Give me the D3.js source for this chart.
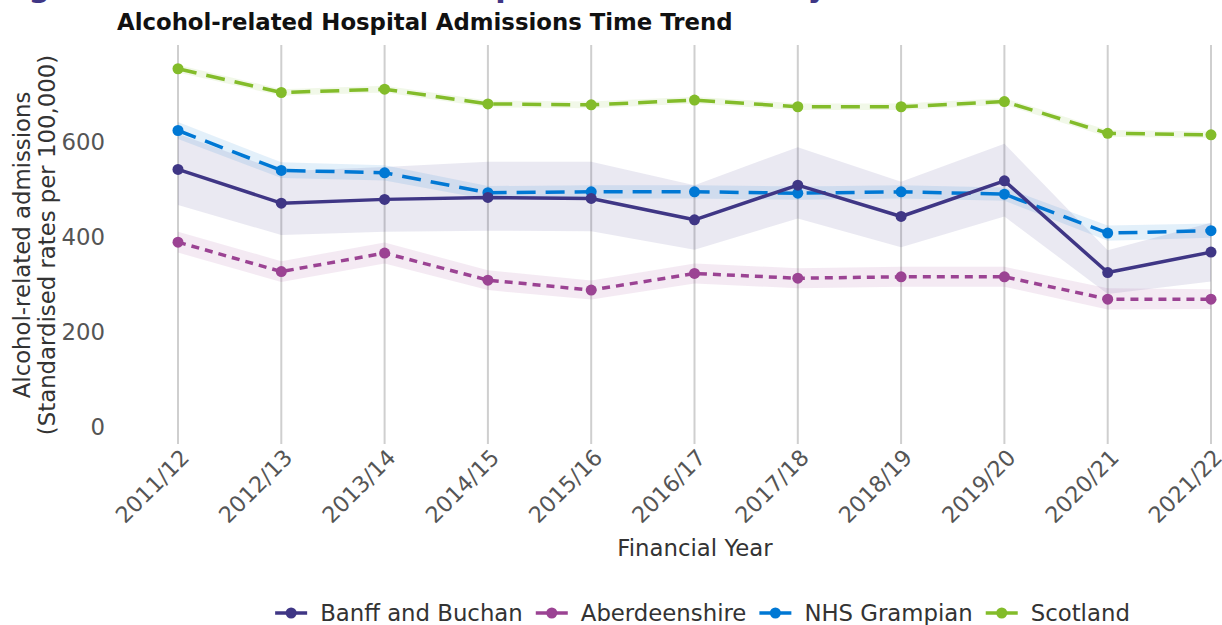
<!DOCTYPE html>
<html>
<head>
<meta charset="utf-8">
<script src="https://cdn.jsdelivr.net/npm/d3@7"></script>
<style>
  html, body { margin: 0; padding: 0; background: #fff; }
  svg { display: block; font-family: "DejaVu Sans", sans-serif; }
</style>
</head>
<body>
<svg id="chart" width="1222" height="625"></svg>
<script>
// ---- data ----
const categories = ["2011/12","2012/13","2013/14","2014/15","2015/16","2016/17","2017/18","2018/19","2019/20","2020/21","2021/22"];
const yTicks = [0, 200, 400, 600];

const banffValues = [542, 471, 479, 483, 481, 436, 509, 443, 518, 325, 368];
const banffLower  = [467, 404, 411, 413, 412, 373, 439, 378, 443, 280, 306];
const banffUpper  = [617, 538, 547, 558, 558, 509, 589, 516, 596, 372, 430];

const aberValues = [389, 327, 366, 309, 288, 323, 313, 316, 316, 269, 269];
const aberLower  = [367, 305, 344, 288, 268, 302, 292, 295, 295, 247, 248];
const aberUpper  = [411, 349, 388, 330, 308, 344, 334, 337, 337, 292, 290];

const nhsValues = [624, 540, 535, 493, 495, 495, 492, 495, 490, 408, 413];
const nhsLower  = [606, 524, 519, 479, 481, 481, 478, 481, 476, 392, 398];
const nhsUpper  = [642, 557, 551, 507, 509, 509, 506, 509, 504, 424, 428];

const scotValues = [754, 704, 711, 680, 678, 688, 674, 674, 685, 618, 615];
const scotLower  = [746, 697, 704, 673, 671, 681, 667, 667, 678, 611, 608];
const scotUpper  = [762, 711, 718, 687, 685, 695, 681, 681, 692, 625, 622];

const seriesNames = ["Banff and Buchan", "Aberdeenshire", "NHS Grampian", "Scotland"];

const series = [
  {name: seriesNames[0], values: banffValues, lower: banffLower, upper: banffUpper, color: "#3f3685", dash: null},
  {name: seriesNames[1], values: aberValues, lower: aberLower, upper: aberUpper, color: "#9b4393", dash: "8,6"},
  {name: seriesNames[2], values: nhsValues, lower: nhsLower, upper: nhsUpper, color: "#0078d4", dash: "19,10"},
  {name: seriesNames[3], values: scotValues, lower: scotLower, upper: scotUpper, color: "#83bc2a", dash: "19,10"}
];

// ---- layout ----
const FS = 22.8;
const svg = d3.select("#chart");
const plot = {left: 178, right: 1211, top: 45, bottom: 444};

const x = d3.scalePoint().domain(categories).range([plot.left, plot.right]);
const y = d3.scaleLinear().domain([-36, 804]).range([plot.bottom, plot.top]);

// partially visible page heading (cut off at the top edge)
const heading = svg.append("text")
  .attr("x", 0).attr("y", -1)
  .attr("font-size", 100).attr("font-weight", "bold")
  .attr("fill", "#3f3685")
  .text("Figure 1: Alcohol-related hospital admissions by area");
(function fitHeading() {
  const n = heading.node();
  const s = n.textContent;
  const gi = s.indexOf("g");
  const yi = s.indexOf("by") + 1;
  const gc = n.getStartPositionOfChar(gi).x + n.getExtentOfChar(gi).width / 2;
  const yc = n.getStartPositionOfChar(yi).x + n.getExtentOfChar(yi).width / 2;
  const fs = 100 * (818 - 39.5) / (yc - gc);
  const x0 = 39.5 - gc * fs / 100;
  heading.attr("font-size", fs).attr("x", x0).attr("y", 4 - 0.22 * fs);
})();

// chart title
svg.append("text")
  .attr("x", 117).attr("y", 30)
  .attr("font-size", FS).attr("font-weight", "bold")
  .attr("fill", "#111")
  .text("Alcohol-related Hospital Admissions Time Trend");

// vertical gridlines
svg.append("g").selectAll("line").data(categories).join("line")
  .attr("x1", d => x(d)).attr("x2", d => x(d))
  .attr("y1", plot.top).attr("y2", plot.bottom)
  .attr("stroke", "#cfcfcf").attr("stroke-width", 2);

// y axis (labels only)
const yAxis = svg.append("g")
  .attr("transform", `translate(${plot.left - 73},0)`)
  .call(d3.axisLeft(y).tickValues(yTicks).tickSize(0).tickPadding(0));
yAxis.select(".domain").remove();
yAxis.selectAll("text")
  .attr("font-family", "DejaVu Sans").attr("font-size", FS).attr("fill", "#555");

// x axis labels
const xAxis = svg.append("g")
  .attr("transform", `translate(0,${plot.bottom + 12})`)
  .call(d3.axisBottom(x).tickSize(0).tickPadding(0));
xAxis.select(".domain").remove();
xAxis.selectAll("text")
  .attr("font-family", "DejaVu Sans").attr("font-size", 22.3).attr("fill", "#555")
  .attr("text-anchor", "end")
  .attr("dy", "0.7em")
  .attr("transform", "translate(1,-8) rotate(-45)");

// axis titles
svg.append("text")
  .attr("x", 695).attr("y", 556)
  .attr("text-anchor", "middle")
  .attr("font-size", FS).attr("fill", "#333")
  .text("Financial Year");

const yTitle = svg.append("text")
  .attr("transform", "translate(0,245) rotate(-90)")
  .attr("text-anchor", "middle")
  .attr("font-size", FS).attr("fill", "#333");
yTitle.append("tspan").attr("x", 0).attr("y", 30).text("Alcohol-related admissions");
yTitle.append("tspan").attr("x", 0).attr("y", 55).text("(Standardised rates per 100,000)");

// bands
const area = d3.area()
  .x((d, i) => x(categories[i]))
  .y0(d => y(d[0]))
  .y1(d => y(d[1]));

const bandG = svg.append("g");
series.forEach(s => {
  const pts = s.values.map((v, i) => [s.lower[i], s.upper[i]]);
  bandG.append("path")
    .attr("d", area(pts))
    .attr("fill", s.color)
    .attr("fill-opacity", 0.11);
});

// lines and markers (Banff drawn last so it sits on top)
const line = d3.line()
  .x((d, i) => x(categories[i]))
  .y(d => y(d));

const drawOrder = [series[3], series[2], series[1], series[0]];
drawOrder.forEach(s => {
  const g = svg.append("g");
  g.append("path")
    .attr("d", line(s.values))
    .attr("fill", "none")
    .attr("stroke", s.color)
    .attr("stroke-width", 3.5)
    .attr("stroke-dasharray", s.dash)
    .attr("stroke-linejoin", "round");
  g.selectAll("circle").data(s.values).join("circle")
    .attr("cx", (d, i) => x(categories[i]))
    .attr("cy", d => y(d))
    .attr("r", 5.5)
    .attr("fill", s.color);
});

// legend
const legend = svg.append("g").attr("transform", "translate(0,613)");
let cursor = 0;
series.forEach(s => {
  const g = legend.append("g");
  g.append("line").attr("x1", 0).attr("x2", 32).attr("y1", 0).attr("y2", 0)
    .attr("stroke", s.color).attr("stroke-width", 3.5);
  g.append("circle").attr("cx", 16).attr("cy", 0).attr("r", 5.5).attr("fill", s.color);
  const t = g.append("text").attr("x", 45).attr("y", 0).attr("dy", "0.35em")
    .attr("font-size", FS).attr("fill", "#333").text(s.name);
  const w = 45 + t.node().getComputedTextLength();
  g.attr("transform", `translate(${cursor},0)`);
  cursor += w + 13;
});
const totalW = cursor - 13;
legend.attr("transform", `translate(${702.5 - totalW / 2},613)`);
</script>
</body>
</html>
